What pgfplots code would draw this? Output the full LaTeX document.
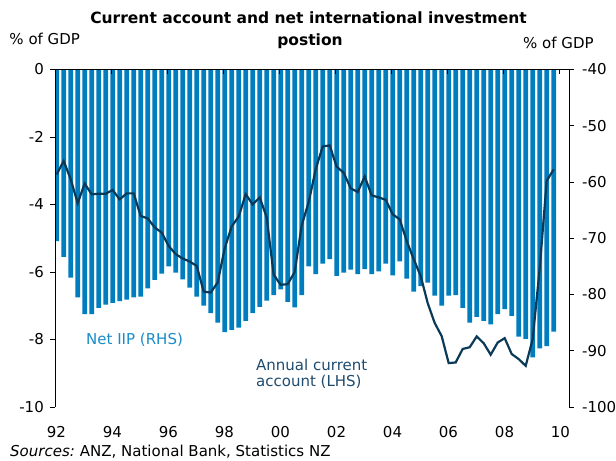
\documentclass[border=0pt]{standalone}
\usepackage{fontspec}
\setmainfont{DejaVu Sans}
\usepackage{pgfplots}
\usepackage{pgfplotstable}
\pgfplotsset{compat=1.18}
\definecolor{barblue}{RGB}{0,125,190}
\definecolor{linenavy}{RGB}{10,58,88}
\definecolor{catext}{RGB}{30,75,110}
\definecolor{iiptext}{RGB}{25,140,200}
\pgfplotstableread{
x iip ca
1992.06 -70.5 -3.11
1992.31 -73.3 -2.71
1992.56 -77.0 -3.25
1992.81 -80.5 -3.96
1993.06 -83.5 -3.38
1993.31 -83.5 -3.70
1993.56 -82.4 -3.68
1993.81 -81.8 -3.68
1994.06 -81.5 -3.57
1994.31 -81.2 -3.85
1994.56 -80.9 -3.67
1994.81 -80.5 -3.67
1995.06 -80.4 -4.34
1995.31 -78.9 -4.41
1995.56 -77.4 -4.68
1995.81 -76.3 -4.83
1996.06 -75.0 -5.23
1996.31 -76.1 -5.47
1996.56 -77.3 -5.60
1996.81 -78.8 -5.69
1997.06 -80.4 -5.82
1997.31 -82.0 -6.58
1997.56 -83.3 -6.61
1997.81 -85.0 -6.31
1998.06 -86.7 -5.30
1998.31 -86.3 -4.65
1998.56 -85.9 -4.36
1998.81 -84.7 -3.69
1999.06 -83.3 -4.00
1999.31 -82.2 -3.79
1999.56 -81.1 -4.38
1999.81 -80.1 -6.08
2000.06 -79.1 -6.38
2000.31 -81.3 -6.36
2000.56 -82.3 -6.00
2000.81 -80.1 -4.62
2001.06 -75.0 -3.93
2001.31 -76.4 -2.96
2001.56 -74.5 -2.28
2001.81 -73.7 -2.25
2002.06 -76.7 -2.88
2002.31 -76.1 -3.06
2002.56 -75.6 -3.52
2002.81 -76.4 -3.63
2003.06 -75.5 -3.17
2003.31 -76.4 -3.73
2003.56 -75.9 -3.79
2003.81 -74.5 -3.86
2004.06 -76.6 -4.29
2004.31 -74.1 -4.44
2004.56 -77.2 -5.08
2004.81 -79.5 -5.62
2005.06 -78.5 -6.12
2005.31 -77.9 -6.92
2005.56 -80.2 -7.51
2005.81 -82.0 -7.90
2006.06 -80.2 -8.70
2006.31 -80.1 -8.68
2006.56 -82.4 -8.28
2006.81 -85.0 -8.23
2007.06 -84.0 -7.91
2007.31 -84.7 -8.11
2007.56 -85.3 -8.45
2007.81 -83.5 -8.09
2008.06 -82.6 -7.96
2008.31 -83.8 -8.43
2008.56 -87.5 -8.58
2008.81 -87.9 -8.78
2009.06 -91.2 -7.99
2009.31 -89.6 -5.90
2009.56 -89.2 -3.30
2009.81 -86.6 -2.96
}\data
\pgfplotsset{
  base/.style={scale only axis, width=514bp, height=337.5bp,
    at={(0,0)}, anchor=south west,
    xmin=1992, xmax=2010.357,
    /pgf/number format/assume math mode=true,
    axis line style={black, line width=0.8bp},
    tick style={black, line width=0.8bp},
    major tick length=5bp},
}
\begin{document}
\begin{tikzpicture}[font=\fontsize{15bp}{18bp}\selectfont]
\useasboundingbox (-55bp,-54bp) rectangle (561bp,407bp);
% bars on right axis
\begin{axis}[base, ymin=-100, ymax=-40,
  axis x line=none, axis y line*=right,
  ytick={-100,-90,...,-40}, tick align=outside,
  yticklabel style={anchor=west, inner sep=0pt, xshift=8bp}]
\addplot[ybar, bar width=4.7bp, fill=barblue, draw=none] table[x=x,y=iip]{\data};
\end{axis}
% top axis line with inward ticks
\begin{axis}[base, ymin=0, ymax=1,
  axis x line*=top, axis y line=none, tick align=inside,
  xtick={1992,1994,...,2010}, xticklabels={}, ytick=\empty]
\end{axis}
% line on left axis, x labels at bottom
\begin{axis}[base, ymin=-10, ymax=0,
  axis y line*=left, axis x line*=bottom,
  x axis line style={draw=none}, xtick style={draw=none},
  xtick={1992,1994,...,2010},
  xticklabels={92,94,96,98,00,02,04,06,08,10},
  ytick={-10,-8,...,0}, tick align=outside,
  yticklabel style={anchor=east, inner sep=0pt, xshift=-6bp},
  xticklabel style={anchor=base, inner sep=0pt, yshift=-26bp, xshift=1.5bp}]
\addplot[linenavy, line width=2.2bp, mark=none] table[x=x,y=ca]{\data};
\end{axis}
\node[anchor=base, inner sep=0pt, font=\fontsize{15.5bp}{18bp}\selectfont\bfseries] at (253.5bp,383bp) {Current account and net international investment};
\node[anchor=base, inner sep=0pt, font=\fontsize{15.5bp}{18bp}\selectfont\bfseries] at (255bp,361bp) {postion};
\node[anchor=base west, inner sep=0pt] at (-45.7bp,362bp) {\% of GDP};
\node[anchor=base west, inner sep=0pt] at (468bp,358.7bp) {\% of GDP};
\node[anchor=base west, inner sep=0pt, text=iiptext] at (31bp,62.5bp) {Net IIP (RHS)};
\node[anchor=base west, inner sep=0pt, text=catext] at (201bp,37bp) {Annual current};
\node[anchor=base west, inner sep=0pt, text=catext] at (201bp,21bp) {account (LHS)};
\node[anchor=base west, inner sep=0pt] at (-45bp,-49bp) {\textit{Sources:}\hspace{5bp}ANZ, National Bank, Statistics NZ};
\end{tikzpicture}
\end{document}
